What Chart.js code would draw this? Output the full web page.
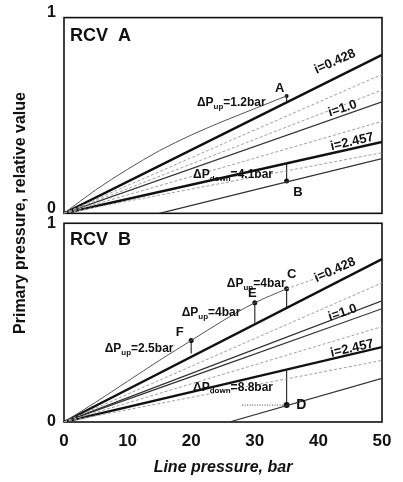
<!DOCTYPE html>
<html lang="en">
<head>
<meta charset="UTF-8">
<meta name="viewport" content="width=device-width, initial-scale=1.0">
<title>RCV primary pressure</title>
<script src="https://cdn.jsdelivr.net/npm/chart.js"></script>
<style>
  html, body { margin: 0; padding: 0; background: #fff; }
  #wrap { position: relative; width: 403px; height: 482px; }
</style>
</head>
<body>
<div id="wrap"><canvas id="rcvChart" width="403" height="482"></canvas></div>
<script>
// line pressure, bar - ends of the straight lines
var xLine = [0, 50];
var xTicks = [0, 10, 20, 30, 40, 50];
var yTicks = [0, 1];

// RCV A, relative primary pressure
var aI0428 = [0, 0.81];
var aDash1 = [0, 0.71];
var aDash2 = [0, 0.63];
var aI10 = [0, 0.57];
var aDash3 = [0, 0.47];
var aI2457 = [0, 0.365];
var aDash4 = [0, 0.31];
var aLowX = [15, 50];
var aLow = [0, 0.28];
var aUpX = [0, 5, 10, 15, 20, 25, 30, 35];
var aUp = [0, 0.12, 0.225, 0.32, 0.40, 0.47, 0.535, 0.60];
var aArrowA = [0.567, 0.60];   // at 35 bar
var aArrowB = [0.255, 0.165];  // at 35 bar

// RCV B
var bI0428 = [0, 0.82];
var bDash1 = [0, 0.70];
var bThin = [0, 0.61];
var bI10 = [0, 0.57];
var bDash2 = [0, 0.48];
var bI2457 = [0, 0.377];
var bDash3 = [0, 0.31];
var bLowX = [26, 50];
var bLow = [0, 0.22];
var bUpX = [0, 5, 10, 15, 20, 25, 30, 35];
var bUp = [0, 0.1, 0.205, 0.31, 0.41, 0.51, 0.60, 0.67];
var bTailX = [35, 42];
var bTail = [0.67, 0.75];
var bArrowF = [0.41, 0.345];   // at 20 bar
var bArrowE = [0.60, 0.50];    // at 30 bar
var bArrowC = [0.67, 0.577];   // at 35 bar
var bArrowD = [0.26, 0.085];   // at 35 bar
var bDotX = [28, 35];
var bDot = [0.085, 0.085];

function pts(xs, ys) {
    return xs.map(function (x, i) { return { x: x, y: ys[i] }; });
}

var thick = { borderColor: '#111', borderWidth: 2.4 };
var thin = { borderColor: '#333', borderWidth: 1.2 };
var dash = { borderColor: '#a0a0a0', borderWidth: 1, borderDash: [3, 2] };
var curve = { borderColor: '#555', borderWidth: 1 };

function line(xs, ys, axis, style, dots) {
    return Object.assign({
        data: pts(xs, ys),
        yAxisID: axis,
        showLine: true,
        fill: false,
        tension: 0.4,
        cubicInterpolationMode: 'monotone',
        pointRadius: dots || 0,
        pointBackgroundColor: '#111',
        pointBorderWidth: 0
    }, style);
}

var datasets = [
    line(xLine, aDash1, 'yA', dash),
    line(xLine, aDash2, 'yA', dash),
    line(xLine, aDash3, 'yA', dash),
    line(xLine, aDash4, 'yA', dash),
    line(aUpX, aUp, 'yA', curve),
    line(xLine, aI0428, 'yA', thick),
    line(xLine, aI10, 'yA', thin),
    line(xLine, aI2457, 'yA', thick),
    line(aLowX, aLow, 'yA', thin),
    line([35, 35], aArrowA, 'yA', thin, [0, 2]),
    line([35, 35], aArrowB, 'yA', thin, [0, 2.5]),

    line(xLine, bDash1, 'yB', dash),
    line(xLine, bDash2, 'yB', dash),
    line(xLine, bDash3, 'yB', dash),
    line(bUpX, bUp, 'yB', curve),
    line(bTailX, bTail, 'yB', dash),
    line(xLine, bI0428, 'yB', thick),
    line(xLine, bThin, 'yB', thin),
    line(xLine, bI10, 'yB', thin),
    line(xLine, bI2457, 'yB', thick),
    line(bLowX, bLow, 'yB', thin),
    line([20, 20], bArrowF, 'yB', thin, [2.5, 0]),
    line([30, 30], bArrowE, 'yB', thin, [2.5, 0]),
    line([35, 35], bArrowC, 'yB', thin, [2.5, 0]),
    line([35, 35], bArrowD, 'yB', thin, [0, 3]),
    line(bDotX, bDot, 'yB', { borderColor: '#444', borderWidth: 1, borderDash: [1, 1.5] })
];

// text placed in data coordinates of each panel
var notes = [
    { ax: 'yA', x: 0.95, y: 0.905, t: [['RCV  A', 0]], size: 18, align: 'left' },
    { ax: 'yA', x: 33.9, y: 0.64, t: [['A', 0]], size: 13, align: 'center' },
    { ax: 'yA', x: 20.9, y: 0.565, t: [['\u0394P', 0], ['up', 1], ['=1.2bar', 0]], size: 12, align: 'left' },
    { ax: 'yA', x: 42.6, y: 0.775, t: [['i=0.428', 0]], size: 13, align: 'center', rot: -24 },
    { ax: 'yA', x: 43.8, y: 0.535, t: [['i=1.0', 0]], size: 13, align: 'center', rot: -18 },
    { ax: 'yA', x: 45.3, y: 0.365, t: [['i=2.457', 0]], size: 13, align: 'center', rot: -13 },
    { ax: 'yA', x: 20.3, y: 0.195, t: [['\u0394P', 0], ['down', 1], ['=4.1bar', 0]], size: 12, align: 'left' },
    { ax: 'yA', x: 36.8, y: 0.105, t: [['B', 0]], size: 13, align: 'center' },

    { ax: 'yB', x: 0.95, y: 0.915, t: [['RCV  B', 0]], size: 18, align: 'left' },
    { ax: 'yB', x: 25.6, y: 0.695, t: [['\u0394P', 0], ['up', 1], ['=4bar', 0]], size: 12, align: 'left' },
    { ax: 'yB', x: 35.8, y: 0.745, t: [['C', 0]], size: 13, align: 'center' },
    { ax: 'yB', x: 29.6, y: 0.645, t: [['E', 0]], size: 13, align: 'center' },
    { ax: 'yB', x: 18.5, y: 0.55, t: [['\u0394P', 0], ['up', 1], ['=4bar', 0]], size: 12, align: 'left' },
    { ax: 'yB', x: 18.2, y: 0.45, t: [['F', 0]], size: 13, align: 'center' },
    { ax: 'yB', x: 6.4, y: 0.37, t: [['\u0394P', 0], ['up', 1], ['=2.5bar', 0]], size: 12, align: 'left' },
    { ax: 'yB', x: 42.6, y: 0.765, t: [['i=0.428', 0]], size: 13, align: 'center', rot: -24 },
    { ax: 'yB', x: 43.8, y: 0.55, t: [['i=1.0', 0]], size: 13, align: 'center', rot: -18 },
    { ax: 'yB', x: 45.3, y: 0.37, t: [['i=2.457', 0]], size: 13, align: 'center', rot: -13 },
    { ax: 'yB', x: 20.3, y: 0.175, t: [['\u0394P', 0], ['down', 1], ['=8.8bar', 0]], size: 12, align: 'left' },
    { ax: 'yB', x: 37.3, y: 0.085, t: [['D', 0]], size: 14, align: 'center' }
];

var FONT = '"Liberation Sans", Arial, sans-serif';

var framePlugin = {
    id: 'frames',
    beforeDatasetsDraw: function (chart) {
        var ctx = chart.ctx, ca = chart.chartArea;
        ctx.save();
        ctx.strokeStyle = '#111';
        ctx.lineWidth = 1.6;
        ['yA', 'yB'].forEach(function (id) {
            var s = chart.scales[id];
            ctx.strokeRect(ca.left, s.top, ca.right - ca.left, s.bottom - s.top);
        });
        ctx.restore();
    }
};

var notesPlugin = {
    id: 'notes',
    afterDatasetsDraw: function (chart) {
        var ctx = chart.ctx;
        ctx.save();
        ctx.fillStyle = '#111';
        ctx.textBaseline = 'middle';
        notes.forEach(function (n) {
            var px = chart.scales.x.getPixelForValue(n.x);
            var py = chart.scales[n.ax].getPixelForValue(n.y);
            var subSize = Math.round(n.size * 0.7);
            var w = 0;
            n.t.forEach(function (p) {
                ctx.font = 'bold ' + (p[1] ? subSize : n.size) + 'px ' + FONT;
                w += ctx.measureText(p[0]).width;
            });
            ctx.save();
            ctx.translate(px, py);
            if (n.rot) ctx.rotate(n.rot * Math.PI / 180);
            var cx = n.align === 'center' ? -w / 2 : 0;
            ctx.textAlign = 'left';
            n.t.forEach(function (p) {
                ctx.font = 'bold ' + (p[1] ? subSize : n.size) + 'px ' + FONT;
                ctx.fillText(p[0], cx, p[1] ? 4 : 0);
                cx += ctx.measureText(p[0]).width;
            });
            ctx.restore();
        });
        // y axis title, spans both panels
        ctx.font = 'bold 16px ' + FONT;
        ctx.textAlign = 'center';
        ctx.translate(21, 213);
        ctx.rotate(-Math.PI / 2);
        ctx.fillText('Primary pressure, relative value', 0, 0);
        ctx.restore();
    }
};

function yAxis(weight, offset) {
    return {
        type: 'linear',
        position: 'left',
        stack: 'rcv',
        stackWeight: weight,
        min: 0,
        max: 1,
        afterBuildTicks: function (s) { s.ticks = yTicks.map(function (v) { return { value: v }; }); },
        ticks: { color: '#111', font: { family: FONT, size: 16, weight: 'bold' }, padding: 8, labelOffset: offset },
        grid: { display: false, drawTicks: false },
        border: { display: false },
        afterFit: function (s) { s.width = 64; }
    };
}

var ctx = document.getElementById('rcvChart').getContext('2d');
var chart = new Chart(ctx, {
    type: 'scatter',
    data: { datasets: datasets },
    options: {
        responsive: false,
        animation: false,
        layout: { padding: { top: 15, right: 21, bottom: 0, left: 0 } },
        plugins: { legend: { display: false }, tooltip: { enabled: false } },
        scales: {
            x: {
                type: 'linear',
                min: 0,
                max: 50,
                afterBuildTicks: function (s) { s.ticks = xTicks.map(function (v) { return { value: v }; }); },
                ticks: { color: '#111', font: { family: FONT, size: 17, weight: 'bold' }, padding: 9 },
                grid: { display: false, drawTicks: false },
                border: { display: false },
                title: {
                    display: true,
                    text: 'Line pressure, bar',
                    color: '#111',
                    font: { family: FONT, size: 16, weight: 'bold', style: 'italic' },
                    padding: { top: 4, bottom: 5 }
                },
                afterFit: function (s) { s.height = 60; }
            },
            yB: yAxis(200, 0),
            yGap: { type: 'linear', position: 'left', stack: 'rcv', stackWeight: 10, display: false },
            yA: yAxis(197, -5)
        }
    },
    plugins: [framePlugin, notesPlugin]
});
</script>
</body>
</html>
